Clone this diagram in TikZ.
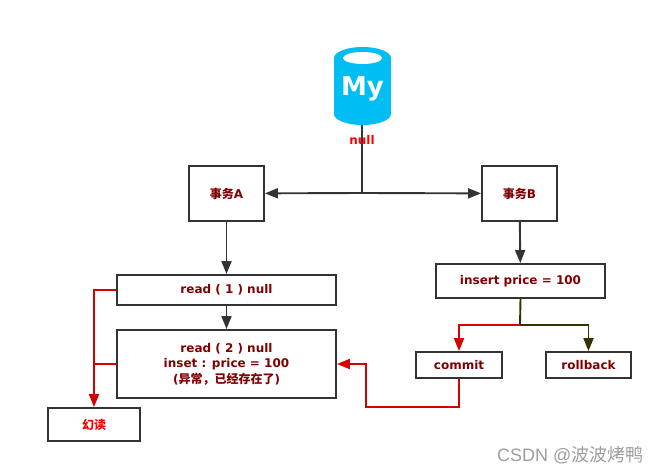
\documentclass[tikz,border=0pt]{standalone}
\usepackage{fontspec}
\setmainfont{DejaVu Sans}
\newfontfamily\cjk{Noto Sans CJK SC}
\newfontfamily\wmfont{Liberation Sans}
\usetikzlibrary{arrows.meta,positioning}
\definecolor{txtred}{RGB}{128,0,0}
\definecolor{boxgray}{RGB}{51,51,51}
\definecolor{linered}{RGB}{215,0,0}
\definecolor{darkolive}{RGB}{51,51,0}
\definecolor{dbblue}{RGB}{0,190,242}

\begin{document}
\begin{tikzpicture}[x=1pt,y=-1pt,
	box/.style={draw=boxgray,line width=1.9pt,fill=white,inner sep=0pt,align=center,
		font=\fontsize{12}{15.5}\selectfont\bfseries,text=txtred},
	conn/.style={draw=boxgray,line width=1.9pt,-{Triangle[length=13pt,width=10pt]}},
	redline/.style={draw=linered,line width=1.9pt},
	redconn/.style={conn,draw=linered},
	oliveconn/.style={conn,draw=darkolive}]
	\fill[white] (0,0) rectangle (663,473);
	\useasboundingbox (0,0) rectangle (663,473);
	% database
	\fill[dbblue] (334,58) rectangle (391,114);
	\fill[dbblue] (362.5,114) ellipse (28.5 and 11);
	\fill[dbblue] (362.5,58) ellipse (28.5 and 11);
	\fill[white] (362.5,58) ellipse (19.5 and 6);
	\node[text=white,font=\fontsize{26}{26}\selectfont\bfseries] (my) at (362.5,89) {My};
	\coordinate (dbbot) at (362,125);
	\coordinate (split) at (362,193);
	\draw[boxgray,line width=1.9pt] (dbbot) -- (split);
	\node[text=red,font=\fontsize{12}{14}\selectfont\bfseries] (null) at (362,140) {null};
	% transactions
	\node[box,minimum width=75pt,minimum height=55pt] (ta) at (226.5,193.5) {{\cjk\bfseries 事务}A};
	\node[box,minimum width=75pt,minimum height=55pt] (tb) at (519.5,193.5) {{\cjk\bfseries 事务}B};
	\draw[conn] (split) -- (ta);
	\draw[conn] (split) -- (tb);
	% left side
	\node[box,minimum width=219pt,minimum height=30pt] (r1) at (226.5,290) {read ( 1 ) null};
	\node[box,minimum width=219pt,minimum height=68pt] (r2) at (226.5,364)
		{read ( 2 ) null\\inset : price = 100\\({\cjk\bfseries 异常，已经存在了})};
	\node[box,minimum width=92pt,minimum height=33pt,text=red] (hd) at (94,424.5) {{\cjk\bfseries 幻读}};
	\draw[conn] (ta) -- (r1);
	\draw[conn] (r1) -- (r2);
	\draw[redconn] (r1.west) -| (hd.north);
	\draw[redline] (r2.west) -- (r2.west -| hd.north);
	% right side
	\node[box,minimum width=169pt,minimum height=34pt] (ins) at (520.5,281) {insert price = 100};
	\node[box,minimum width=86pt,minimum height=26pt] (cm) at (459,365) {commit};
	\node[box,minimum width=85pt,minimum height=26pt] (rb) at (588.5,365) {rollback};
	\draw[conn] (tb) -- (ins);
	\coordinate (fork) at (520,325);
	\draw[darkolive,line width=1.9pt] (ins.south) -- (fork);
	\draw[redconn] (fork) -| (cm.north);
	\draw[oliveconn] (fork) -| (rb.north);
	\coordinate (back) at (366,407);
	\draw[redconn] (cm.south) |- (back) |- (r2.east);
	% watermark
	\node[anchor=base west,inner sep=0pt,text=black!38,font=\fontsize{18}{18}\selectfont] (wm) at (497,461)
		{\wmfont CSDN @{\cjk 波波烤鸭}};
\end{tikzpicture}
\end{document}
